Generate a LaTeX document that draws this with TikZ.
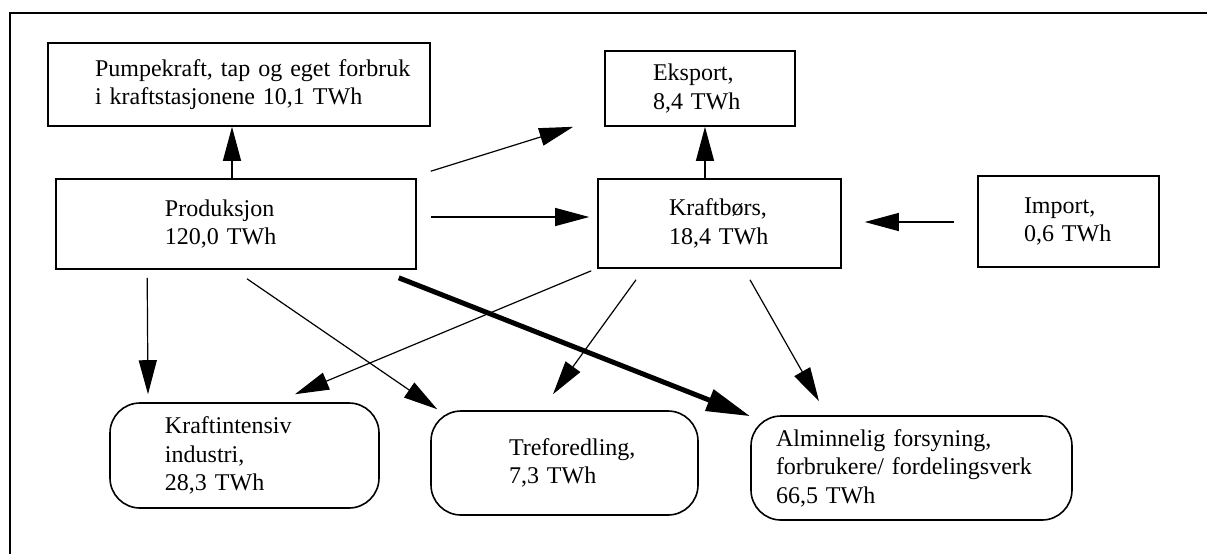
\documentclass[tikz,border=0pt]{standalone}
\usepackage{fontspec}
\setmainfont{Liberation Serif}
\usetikzlibrary{arrows.meta, calc}

\begin{document}
\begin{tikzpicture}[x=0.5pt, y=-0.5pt,
    box/.style={draw, line width=0.8pt, inner xsep=4pt, inner ysep=2pt, align=left,
                font=\fontsize{12}{14.2}\selectfont},
    rbox/.style={box, rounded corners=15pt},
    dims/.style n args={3}{minimum width=#1, text width=#1-8pt, minimum height=#2,
                execute at begin node={\leftskip=#3\relax}},
    flow/.style={-{Triangle[length=17pt, width=9pt]}, line width=0.6pt},
    bigflow/.style={-{Triangle[length=22pt, width=11pt]}, line width=2.5pt}]
    \useasboundingbox (0,0) rectangle (1207,554);

    % frame
    \draw[line width=0.8pt] (1207,13) -- (10,13) -- (10,554);

    % upper row
    \node[box, dims={191pt}{41.5pt}{19.5pt}] (pump) at (239,84.5)
        {Pumpekraft, tap og eget forbruk\\ i kraftstasjonene 10,1 TWh};
    \node[box, dims={95pt}{37.5pt}{20pt}] (eks) at (700,88.5) {Eksport,\\ 8,4 TWh};

    % middle row
    \node[box, dims={180pt}{45pt}{50.5pt}] (prod) at (236,224) {Produksjon\\ 120,0 TWh};
    \node[box, dims={121.5pt}{44.5pt}{31.5pt}] (kraft) at (719.5,223.5) {Kraftbørs,\\ 18,4 TWh};
    \node[box, dims={90.5pt}{45.5pt}{19pt}] (imp) at (1068.5,221.5) {Import,\\ 0,6 TWh};

    % consumers
    \node[rbox, dims={134.5pt}{52.5pt}{23.5pt}] (kind) at (244.5,455.5)
        {Kraftintensiv\\ industri,\\ 28,3 TWh};
    \node[rbox, dims={133.5pt}{52pt}{35pt}] (tre) at (564.5,463) {Treforedling,\\ 7,3 TWh};
    \node[rbox, dims={160.5pt}{52pt}{8.5pt}] (alm) at (911.5,468)
        {Alminnelig forsyning,\\ forbrukere/ fordelingsverk\\ 66,5 TWh};

    % flows
    \draw[flow] ($(prod.north)+(-4,0)$) -- ($(pump.south)+(-7,0)$);
    \draw[flow] ($(prod.north east)+(14,-7)$) -- ($(eks.south west)+(-31,0)$);
    \draw[flow] ($(prod.east)+(14,-7)$) -- ($(kraft.west)+(-8,-6.5)$);
    \draw[flow] ($(kraft.north)+(-14.5,0)$) -- ($(eks.south)+(5,0)$);
    \draw[flow] ($(imp.west)+(-23,0.5)$) -- ($(kraft.east)+(23,-1.5)$);
    \draw[flow] ($(prod.south west)+(92,8)$) -- ($(kind.north)+(-96.5,-8)$);
    \draw[flow] ($(prod.south)+(11,9)$) -- ($(tre.north west)+(7,-1)$);
    \draw[bigflow] ($(prod.south east)+(-18,8)$) -- ($(alm.north west)+(0,1)$);
    \draw[flow] ($(kraft.south west)+(-6,2)$) -- ($(kind.north)+(50.5,-8)$);
    \draw[flow] ($(kraft.south)+(-83.5,11)$) -- ($(tre.north)+(-11.5,-16)$);
    \draw[flow] ($(kraft.south)+(30.5,11)$) -- ($(alm.north)+(-92.5,-14)$);
\end{tikzpicture}
\end{document}
